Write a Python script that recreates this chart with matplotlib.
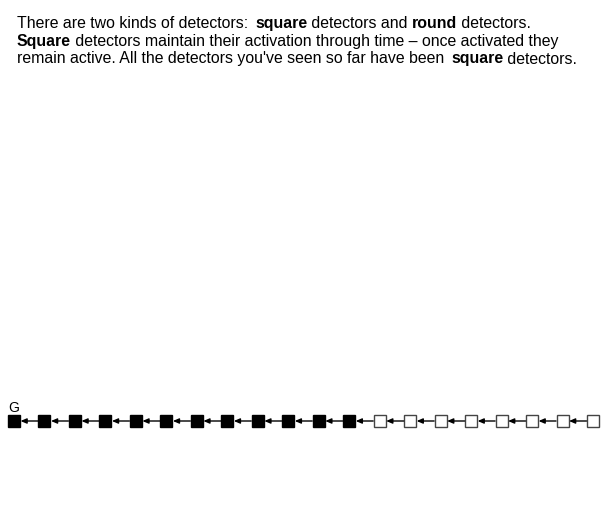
import matplotlib
matplotlib.use('Agg')
import matplotlib.pyplot as plt

plt.rcParams['font.family'] = ['Liberation Sans', 'DejaVu Sans']

# detector states: 1 = activated (filled), 0 = not yet active (open)
states = [1] * 12 + [0] * 8
goal_label = 'G'

# text lines as (piece, bold) segments
lines = [
    [('There are two kinds of detectors:  ', False), ('square', True),
     (' detectors and ', False), ('round', True), (' detectors.', False)],
    [('Square', True),
     (' detectors maintain their activation through time \u2013 once activated they', False)],
    [('remain active. All the detectors you\'ve seen so far have been  ', False),
     ('square', True), (' detectors.', False)],
]

W, H = 605, 529
fig = plt.figure(figsize=(W / 100, H / 100), dpi=100)
ax = fig.add_axes([0, 0, 1, 1])
ax.axis('off')

step = (593 - 14) / (len(states) - 1)
ax.set_xlim(-14 / step, (W - 14) / step)
ax.set_ylim(-(H - 421), 421)

half = 6.5 / step
xs = list(range(len(states)))
for i, s in enumerate(states):
    face = 'black' if s else 'white'
    edge = 'black' if s else '#444444'
    ax.plot(i, 0, marker='s', markersize=8.9, markerfacecolor=face,
            markeredgecolor=edge, markeredgewidth=1.0, zorder=3)
for i in xs[:-1]:
    ax.annotate('', xy=(i + half, 0), xytext=(i + 1 - half, 0),
                arrowprops=dict(arrowstyle='-|>,head_length=0.35,head_width=0.15',
                                color='black', lw=1.0, shrinkA=0, shrinkB=0))
ax.text(0, 9, goal_label, fontsize=10, ha='center', va='baseline')

fig.canvas.draw()
renderer = fig.canvas.get_renderer()
fs = 11.4


def advance(piece, bold):
    # width of piece including spaces, measured between two bars
    w = 'bold' if bold else 'normal'
    a = fig.text(0, 0, '|' + piece + '|', fontsize=fs, fontweight=w)
    b = fig.text(0, 0, '||', fontsize=fs, fontweight=w)
    d = a.get_window_extent(renderer).width - b.get_window_extent(renderer).width
    a.remove()
    b.remove()
    return d


baselines = [28, 46, 63.5]
for line, yb in zip(lines, baselines):
    x = 17
    for piece, bold in line:
        extra = 0
        if piece.endswith('  '):
            # the double space in the source is narrower than two spaces
            piece = piece[:-1]
            extra = 2.5
        fig.text(x / W, 1 - yb / H, piece, fontsize=fs,
                 fontweight='bold' if bold else 'normal', va='baseline', ha='left')
        x += advance(piece, bold) + extra

fig.savefig('out.png', dpi=100)
